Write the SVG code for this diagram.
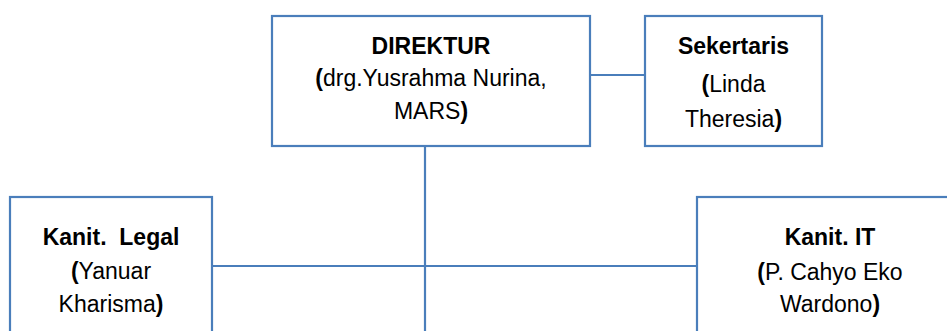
<svg xmlns="http://www.w3.org/2000/svg" width="947" height="331" viewBox="0 0 947 331">
<style>
.box{fill:#fff;stroke:#4a7ebb;stroke-width:2.2}
.ln{stroke:#4a7ebb;stroke-width:2.2;fill:none}
text{font-family:"Liberation Sans",Arial,sans-serif;font-size:23px;fill:#000;text-anchor:middle}
.b{font-weight:bold}
</style>
<rect width="947" height="331" fill="#fff"/>
<g id="connectors">
<line class="ln" x1="590" y1="75" x2="645" y2="75"/>
<line class="ln" x1="425" y1="146" x2="425" y2="331"/>
<line class="ln" x1="212" y1="266" x2="697" y2="266"/>
</g>
<g id="direktur">
<rect class="box" x="272" y="16" width="318" height="130"/>
<text x="431" y="54" class="b">DIREKTUR</text>
<text x="431" y="86"><tspan class="b">(</tspan>drg.Yusrahma Nurina,</text>
<text x="431" y="119">MARS<tspan class="b">)</tspan></text>
</g>
<g id="sekertaris">
<rect class="box" x="645" y="16" width="177" height="130"/>
<text x="733.5" y="54" class="b">Sekertaris</text>
<text x="733.5" y="92"><tspan class="b">(</tspan>Linda</text>
<text x="733.5" y="127">Theresia<tspan class="b">)</tspan></text>
</g>
<g id="kanit-legal">
<rect class="box" x="10" y="197" width="202" height="150"/>
<text x="111" y="245" class="b" xml:space="preserve">Kanit.  Legal</text>
<text x="111" y="279"><tspan class="b">(</tspan>Yanuar</text>
<text x="111" y="312">Kharisma<tspan class="b">)</tspan></text>
</g>
<g id="kanit-it">
<rect class="box" x="697" y="197" width="266" height="150"/>
<text x="830" y="245" class="b">Kanit. IT</text>
<text x="830" y="280"><tspan class="b">(</tspan>P. Cahyo Eko</text>
<text x="830" y="312">Wardono<tspan class="b">)</tspan></text>
</g>
</svg>
